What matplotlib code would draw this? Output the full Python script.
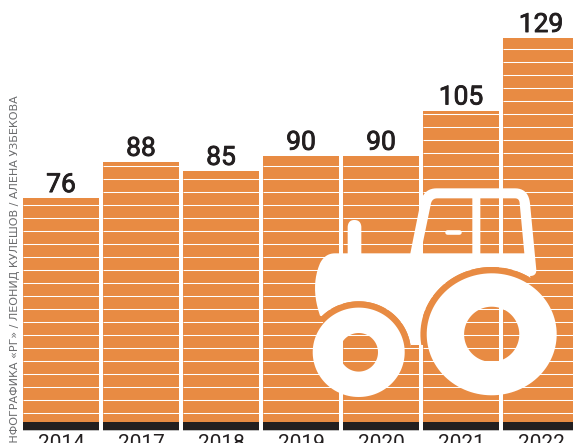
import numpy as np
import matplotlib
matplotlib.use("Agg")
import matplotlib.pyplot as plt
import matplotlib.patheffects as pe
from matplotlib.path import Path
from matplotlib.patches import PathPatch

years = ["2014", "2017", "2018", "2019", "2020", "2021", "2022"]
values = [76, 88, 85, 90, 90, 105, 129]
credit = "ИНФОГРАФИКА «РГ» / ЛЕОНИД КУЛЕШОВ / АЛЕНА УЗБЕКОВА"

ORANGE = "#E88B43"
BLACK = "#231F20"
W, H = 573, 443
PX_PER_UNIT = 3.02
BASE_PX = 427.6
BOTTOM_PX = 430.5

fig = plt.figure(figsize=(W / 100, H / 100), dpi=100, facecolor="white")
ax = fig.add_axes([0, 1 - BOTTOM_PX / H, 1, BOTTOM_PX / H])
ax.set_xlim(-61 / 80, (W - 61) / 80)
ax.set_ylim(-(BOTTOM_PX - BASE_PX) / PX_PER_UNIT, BASE_PX / PX_PER_UNIT)
for s in ax.spines.values():
    s.set_visible(False)
ax.yaxis.set_visible(False)

x = np.arange(len(values))
bw = 76 / 80
ax.bar(x, values, width=bw, color=ORANGE, zorder=1)

levels = (BASE_PX - (205 + 13 * np.arange(-13, 17))) / PX_PER_UNIT
for xi, v in zip(x, values):
    lv = levels[levels < v - 0.2]
    ax.hlines(lv, xi - bw / 2, xi + bw / 2, color="white", lw=0.75, zorder=2)

y0 = ax.get_ylim()[0]
ax.bar(x, [1.85 - y0 - 0.15] * len(x), bottom=y0 + 0.15, width=bw, color=BLACK, zorder=3)
ax.bar(x, [0.2] * len(x), bottom=y0, width=bw, color="#BDBDBD", zorder=3)

ax.set_xticks(x, years)
ax.tick_params(axis="x", length=0, pad=2.4, labelsize=15, labelcolor=BLACK)
for t in ax.get_xticklabels():
    t.set_fontfamily("Roboto")

for xi, v in zip(x, values):
    ann = ax.annotate(str(v), (xi, v), xytext=(0, 6), textcoords="offset pixels",
                      ha="center", va="baseline", fontsize=19, color=BLACK,
                      family="Roboto", annotation_clip=False, zorder=5)
    ann.set_path_effects([pe.withStroke(linewidth=0.6, foreground=BLACK)])

fig.text(14.7 / W, 1 - 95 / H, credit, rotation=90, ha="center", va="top",
         fontsize=8.0, color="#6A6B6D", family="DejaVu Sans")

ov = fig.add_axes([0, 0, 1, 1], facecolor="none")
ov.set_xlim(0, W)
ov.set_ylim(H, 0)
ov.axis("off")

def Z(px, py):
    return (300 + px / 3, 170 + py / 3)

def ell(cx, cy, rx, ry, a0, a1, n=60):
    a = np.radians(np.linspace(a0, a1, n))
    return np.c_[cx + rx * np.cos(a), cy + ry * np.sin(a)]

BIG = (491.7, 334.3, 65, 61)
SMALL = (358.7, 352.3, 46, 44.7)
GAP = 6.3

def closed(points):
    pts = np.asarray(points)
    codes = [Path.MOVETO] + [Path.LINETO] * (len(pts) - 1) + [Path.CLOSEPOLY]
    return np.r_[pts, pts[:1]], codes

def bez(p0, p1, p2, n=12):
    t = np.linspace(0, 1, n)[:, None]
    p0, p1, p2 = map(np.array, (p0, p1, p2))
    return (1 - t) ** 2 * p0 + 2 * t * (1 - t) * p1 + t ** 2 * p2

top = [
    bez(Z(60, 437), Z(30, 350), Z(60, 280)),
    bez(Z(60, 280), Z(75, 250), Z(105, 250)),
    [Z(143, 250)],
    [Z(143, 170)],
    bez(Z(143, 170), Z(145, 150), Z(163, 150)),
    bez(Z(163, 150), Z(182, 150), Z(184, 170)),
    [Z(184, 250), Z(331, 250), Z(362, 95)],
    bez(Z(362, 95), Z(372, 55), Z(410, 55)),
    [Z(645, 55)],
    bez(Z(645, 55), Z(685, 55), Z(690, 100)),
    [Z(709, 300)],
    bez(Z(709, 300), Z(709, 318), Z(690, 318)),
]
outer = np.vstack(top + [
    ell(BIG[0], BIG[1], BIG[2] + GAP, BIG[3] + GAP, -57, -180),
    [Z(362, 525), Z(332, 525)],
    ell(SMALL[0], SMALL[1], SMALL[2] + GAP, SMALL[3] + GAP, -5, -135),
])
hull = np.vstack(top + [[Z(600, 525), Z(100, 525)]])
win1 = np.vstack([[Z(362, 250), Z(393, 100)], bez(Z(393, 100), Z(397, 85), Z(412, 85)),
                  [Z(517, 85), Z(517, 250)]])
win2 = np.vstack([[Z(541, 250), Z(541, 85), Z(645, 85)], bez(Z(645, 85), Z(658, 85), Z(659, 100)),
                  [Z(673, 250)]])
v, c = [], []
for poly in (outer, win1[::-1], win2[::-1]):
    pts, cd = closed(poly)
    v.append(pts); c += cd
ov.add_patch(PathPatch(Path(np.vstack(v), c), fc="white", ec="none", zorder=6))

def wheel(cx, cy, rx, ry, r, r2=None):
    out = ell(cx, cy, rx, ry, 0, 360, 120)[:-1]
    inn = ell(cx, cy, r, r2 or r, 360, 0, 120)[:-1]
    p1, c1 = closed(out)
    p2, c2 = closed(inn)
    return Path(np.vstack([p1, p2]), c1 + c2)

hp, hc = closed(hull)
hull_patch = PathPatch(Path(hp, hc), transform=ov.transData)
for (cx, cy, rx, ry) in (BIG, SMALL):
    ring = PathPatch(wheel(cx, cy, rx + GAP, ry + GAP, rx - 1, ry - 1), fc=ORANGE, ec="none", zorder=6.5)
    ov.add_patch(ring)
    ring.set_clip_path(hull_patch)

ov.add_patch(PathPatch(wheel(*BIG, 27.6), fc="white", ec="none", zorder=7))
ov.add_patch(PathPatch(wheel(*SMALL, 19.3), fc="white", ec="none", zorder=7))
hx, hy = Z(459, 187)
ov.plot([hx - 6, hx + 6], [hy, hy], color="white", lw=3.3, solid_capstyle="round", zorder=7)

fig.savefig("out.png", dpi=100)
